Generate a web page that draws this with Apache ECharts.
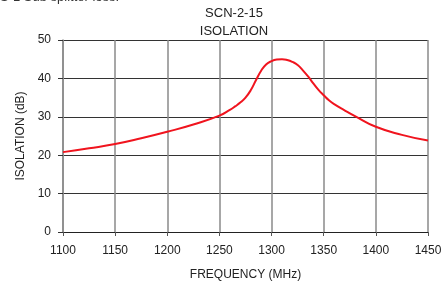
<!DOCTYPE html>
<html>
<head>
<meta charset="utf-8">
<script src="https://cdn.jsdelivr.net/npm/echarts@6/dist/echarts.min.js"></script>
<style>
  html, body { margin: 0; padding: 0; background: #fff; }
  #chart { width: 445px; height: 286px; }
</style>
</head>
<body>
<div id="chart"></div>
<script>
// frequency (MHz) and isolation (dB)
const freq = [1100, 1125, 1150, 1175, 1200, 1225, 1250, 1260, 1265, 1270, 1275, 1280, 1285, 1290, 1295, 1300, 1305, 1310, 1315, 1320, 1325, 1330, 1335, 1340, 1345, 1350, 1355, 1360, 1370, 1380, 1400, 1425, 1450];
const isolation = [20.8, 21.8, 22.9, 24.4, 26.1, 28.0, 30.3, 31.8, 32.7, 33.7, 35.0, 36.9, 39.5, 42.0, 43.7, 44.5, 44.9, 45.0, 44.8, 44.3, 43.5, 42.1, 40.5, 38.7, 37.0, 35.6, 34.3, 33.3, 31.7, 30.2, 27.4, 25.3, 23.8];
const xTicks = [1100, 1150, 1200, 1250, 1300, 1350, 1400, 1450];
const yTicks = [0, 10, 20, 30, 40, 50];

const chart = echarts.init(document.getElementById("chart"));
const font = "Liberation Sans, Arial, sans-serif";

const option = {
  animation: false,
  title: {
    text: "SCN-2-15\nISOLATION",
    left: 229,
    top: -1,
    textAlign: "center",
    textStyle: { fontFamily: font, fontSize: 13, fontWeight: "normal", color: "#222", lineHeight: 18 },
  },
  graphic: [
    {
      // caption from the page above, cut off at the top edge
      type: "text",
      left: 0,
      top: -9,
      style: { text: "S-1 Sub splitter loss.", font: "13px " + font, fill: "#333" },
    },
  ],
  grid: { left: 63, right: 17, top: 40, bottom: 47 },
  xAxis: {
    type: "value",
    min: xTicks[0],
    max: xTicks[xTicks.length - 1],
    interval: 50,
    name: "FREQUENCY (MHz)",
    nameLocation: "middle",
    nameGap: 37,
    nameTextStyle: { fontFamily: font, fontSize: 12, color: "#222" },
    axisLine: { lineStyle: { color: "#222", width: 1 } },
    axisTick: { show: true, length: 4, lineStyle: { color: "#555" } },
    axisLabel: { fontFamily: font, fontSize: 12, color: "#222", margin: 13, formatter: (v) => String(v) },
    splitLine: { show: true, lineStyle: { color: "#8a8a8a", width: 1.5 } },
  },
  yAxis: {
    type: "value",
    min: yTicks[0],
    max: yTicks[yTicks.length - 1],
    interval: 10,
    name: "ISOLATION (dB)",
    nameLocation: "middle",
    nameGap: 36,
    nameTextStyle: { fontFamily: font, fontSize: 12, color: "#222" },
    axisLine: { show: true, lineStyle: { color: "#8a8a8a", width: 1.5 } },
    axisTick: { show: true, length: 5, lineStyle: { color: "#333" } },
    axisLabel: { fontFamily: font, fontSize: 12, color: "#222", margin: 12 },
    splitLine: { show: true, lineStyle: { color: "#333", width: 1 } },
  },
  series: [
    {
      type: "line",
      data: freq.map((f, i) => [f, isolation[i]]),
      smooth: 0.5,
      showSymbol: false,
      lineStyle: { color: "#f0141e", width: 2 },
    },
  ],
};

chart.setOption(option);
</script>
</body>
</html>
